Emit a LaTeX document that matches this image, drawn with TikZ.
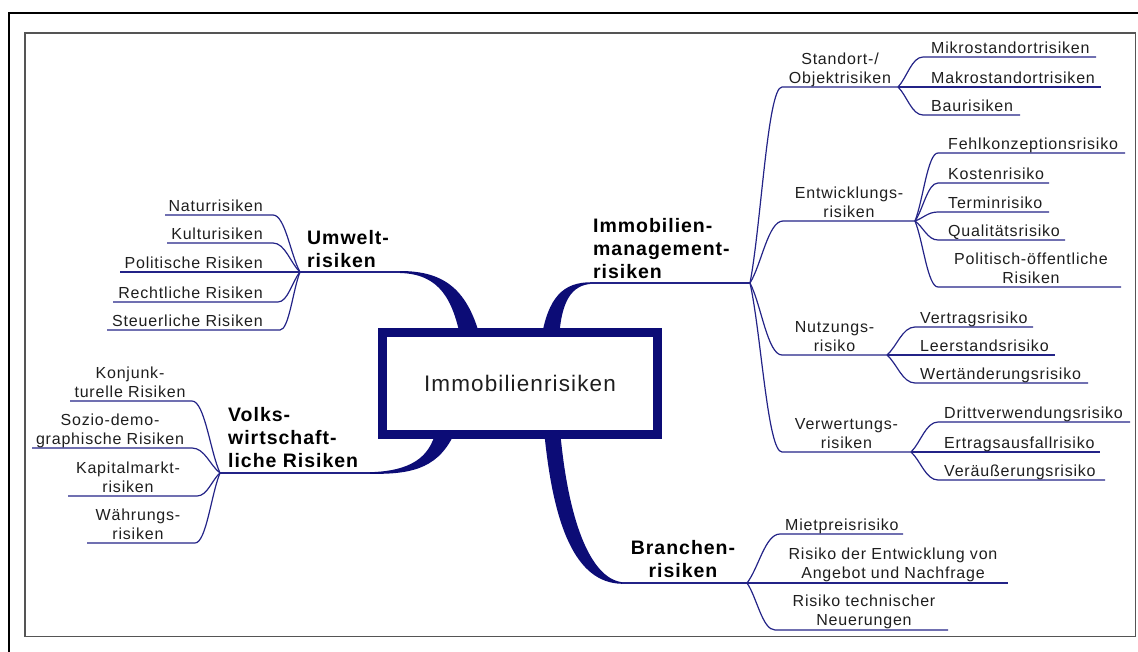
\documentclass[tikz,border=0pt]{standalone}
\usepackage{fontspec}
\setmainfont{Liberation Sans}[LetterSpace=5]
\usetikzlibrary{calc}
\definecolor{navy}{RGB}{12,12,118}
\definecolor{twig}{RGB}{35,35,135}
\definecolor{ink}{RGB}{30,30,30}
\definecolor{framegray}{RGB}{85,85,85}

% thin branch: curve from junction #2 to (#3,#5), then underline to (#4,#5)
\newcommand\twigto[5]{%
  \coordinate (#1s) at (#3,#5);
  \coordinate (#1e) at (#4,#5);
  \draw[twigline] let \p1=(#2), \p2=(#1s) in
    (#2) .. controls ({\x1+0.35*(\x2-\x1)},{\y1+0.3*(\y2-\y1)})
            and ({\x1+0.55*(\x2-\x1)},\y2) .. (#1s) -- (#1e);}
% straight branch at the junction's own height
\newcommand\twigflat[3]{%
  \coordinate (#1e) at (#3);
  \draw[twigline] (#2) -- (#1e);}

\begin{document}
\begin{tikzpicture}[x=1pt,y=-1pt,
  twigline/.style={draw=twig, line width=1.2pt},
  trunk/.style={fill=navy},
  leaf/.style={font={\fontsize{16}{19}\selectfont}, text=ink, inner sep=0pt},
  head/.style={font={\bfseries\fontsize{19.5}{23}\selectfont}, text=black, inner sep=0pt, align=left},
  core/.style={draw=navy, line width=9pt, fill=white, minimum width=275pt,
    minimum height=102pt, inner sep=0pt, font={\fontsize{22.5}{27}\selectfont}, text=ink}]
\useasboundingbox (0,0) rectangle (1138,651);

% frames
\draw[black, line width=2.5pt] (9,655) -- (9,13) -- (1142,13);
\draw[framegray, line width=1.5pt] (25,33) rectangle (1135.5,636.5);

% junctions
\coordinate (jU) at (300,272);
\coordinate (jV) at (220,473);
\coordinate (jI) at (750,283);
\coordinate (jB) at (747,583);
\coordinate (jS) at (898,87);
\coordinate (jE) at (915,221);
\coordinate (jN) at (887,355);
\coordinate (jW) at (911,452);

% thin ends of the main branches
\coordinate (tU) at (400,272);
\coordinate (tI) at (590,283);
\coordinate (tV) at (370,473);
\coordinate (tB) at (622,583);

% main branches (tapered)
\fill[trunk] (tU) ++(0,-1) .. controls (445,271) and (468,290) .. (481,340)
  -- (461,340) .. controls (453,300) and (440,274) .. (400,273) -- cycle;
\fill[trunk] (541,340) .. controls (548,297) and (563,282) .. (592,282.2)
  -- (592,283.8) .. controls (572,285) and (561,300) .. (559,340) -- cycle;
\fill[trunk] (456,430) .. controls (440,467) and (415,474.6) .. (370,473.8)
  -- (370,472.2) .. controls (410,471) and (430,458) .. (436,430) -- cycle;
\fill[trunk] (544,430) .. controls (553,525) and (575,583) .. (622,583.8)
  -- (622,582.2) .. controls (590,578) and (568,520) .. (560,430) -- cycle;

\draw[twigline] (tU) -- (jU);
\draw[twigline] (tI) -- (jI);
\draw[twigline] (tV) -- (jV);
\draw[twigline] (tB) -- (jB);

% central topic
\node[core] (core) at (520,383.5) {Immobilienrisiken};

% main topics (anchor base = baseline of the last line)
\node[head, anchor=base west] (umwelt) at (307,267) {Umwelt-\\risiken};
\node[head, anchor=base west] (immo) at (593,278) {Immobilien-\\management-\\risiken};
\node[head, anchor=base west] (volks) at (228,467) {Volks-\\wirtschaft-\\liche Risiken};
\node[head, align=center, anchor=base] (branchen) at (683,577) {Branchen-\\risiken};

% Umwelt
\twigto{nat}{jU}{273}{165}{215}
\twigto{kul}{jU}{273}{167}{243}
\twigflat{pol}{jU}{120,272}
\twigto{rec}{jU}{278}{113}{302}
\twigto{steu}{jU}{280}{107}{330}
\node[leaf, anchor=base east] (natT) at (263,211) {Naturrisiken};
\node[leaf, anchor=base east] (kulT) at (263,239) {Kulturisiken};
\node[leaf, anchor=base east] (polT) at (263,268) {Politische Risiken};
\node[leaf, anchor=base east] (recT) at (263,298) {Rechtliche Risiken};
\node[leaf, anchor=base east] (steuT) at (263,326) {Steuerliche Risiken};

% Volkswirtschaft
\twigto{konj}{jV}{192}{70}{401}
\twigto{soz}{jV}{192}{32}{448}
\twigto{kap}{jV}{197}{68}{496}
\twigto{wae}{jV}{195}{87}{543}
\node[leaf, align=center, anchor=base] (konjT) at (130,397) {Konjunk-\\turelle Risiken};
\node[leaf, align=center, anchor=base] (sozT) at (110,444) {Sozio-demo-\\graphische Risiken};
\node[leaf, align=center, anchor=base] (kapT) at (128,492) {Kapitalmarkt-\\risiken};
\node[leaf, align=center, anchor=base] (waeT) at (138,539) {Währungs-\\risiken};

% Immobilienmanagement
\twigto{sto}{jI}{782}{898}{87}
\twigto{ent}{jI}{783}{915}{221}
\twigto{nut}{jI}{782}{887}{355}
\twigto{vwt}{jI}{782}{911}{452}
\node[leaf, align=center, anchor=base] (stoT) at (840,83) {Standort-/\\Objektrisiken};
\node[leaf, align=center, anchor=base] (entT) at (849,217) {Entwicklungs-\\risiken};
\node[leaf, align=center, anchor=base] (nutT) at (834.5,351) {Nutzungs-\\risiko};
\node[leaf, align=center, anchor=base] (vwtT) at (846.5,448) {Verwertungs-\\risiken};

% Standort
\twigto{mik}{jS}{923}{1096}{57}
\twigflat{mak}{jS}{1101,87}
\twigto{bau}{jS}{923}{1020}{115}
\node[leaf, anchor=base west] (mikT) at (931,53) {Mikrostandortrisiken};
\node[leaf, anchor=base west] (makT) at (931,83) {Makrostandortrisiken};
\node[leaf, anchor=base west] (bauT) at (931,111) {Baurisiken};

% Entwicklung
\twigto{feh}{jE}{938}{1125}{153}
\twigto{kos}{jE}{938}{1049}{183}
\twigto{ter}{jE}{938}{1049}{212}
\twigto{qua}{jE}{938}{1065}{240}
\twigto{poe}{jE}{938}{1121}{287}
\node[leaf, anchor=base west] (fehT) at (948,149) {Fehlkonzeptionsrisiko};
\node[leaf, anchor=base west] (kosT) at (948,179) {Kostenrisiko};
\node[leaf, anchor=base west] (terT) at (948,208) {Terminrisiko};
\node[leaf, anchor=base west] (quaT) at (948,236) {Qualitätsrisiko};
\node[leaf, align=center, anchor=base] (poeT) at (1031,283) {Politisch-öffentliche\\Risiken};

% Nutzung
\twigto{vtr}{jN}{915}{1033}{327}
\twigflat{lee}{jN}{1055,355}
\twigto{wer}{jN}{915}{1088}{383}
\node[leaf, anchor=base west] (vtrT) at (920,323) {Vertragsrisiko};
\node[leaf, anchor=base west] (leeT) at (920,351) {Leerstandsrisiko};
\node[leaf, anchor=base west] (werT) at (920,379) {Wertänderungsrisiko};

% Verwertung
\twigto{dri}{jW}{938}{1130}{422}
\twigflat{ert}{jW}{1100,452}
\twigto{vau}{jW}{938}{1105}{480}
\node[leaf, anchor=base west] (driT) at (944,418) {Drittverwendungsrisiko};
\node[leaf, anchor=base west] (ertT) at (944,448) {Ertragsausfallrisiko};
\node[leaf, anchor=base west] (vauT) at (944,476) {Veräußerungsrisiko};

% Branchen
\twigto{mie}{jB}{780}{903}{534}
\twigflat{ang}{jB}{1008,583}
\twigto{neu}{jB}{775}{948}{630}
\node[leaf, anchor=base west] (mieT) at (785,530) {Mietpreisrisiko};
\node[leaf, align=center, anchor=base] (angT) at (893,578) {Risiko der Entwicklung von\\Angebot und Nachfrage};
\node[leaf, align=center, anchor=base] (neuT) at (864,625) {Risiko technischer\\Neuerungen};
\end{tikzpicture}
\end{document}
